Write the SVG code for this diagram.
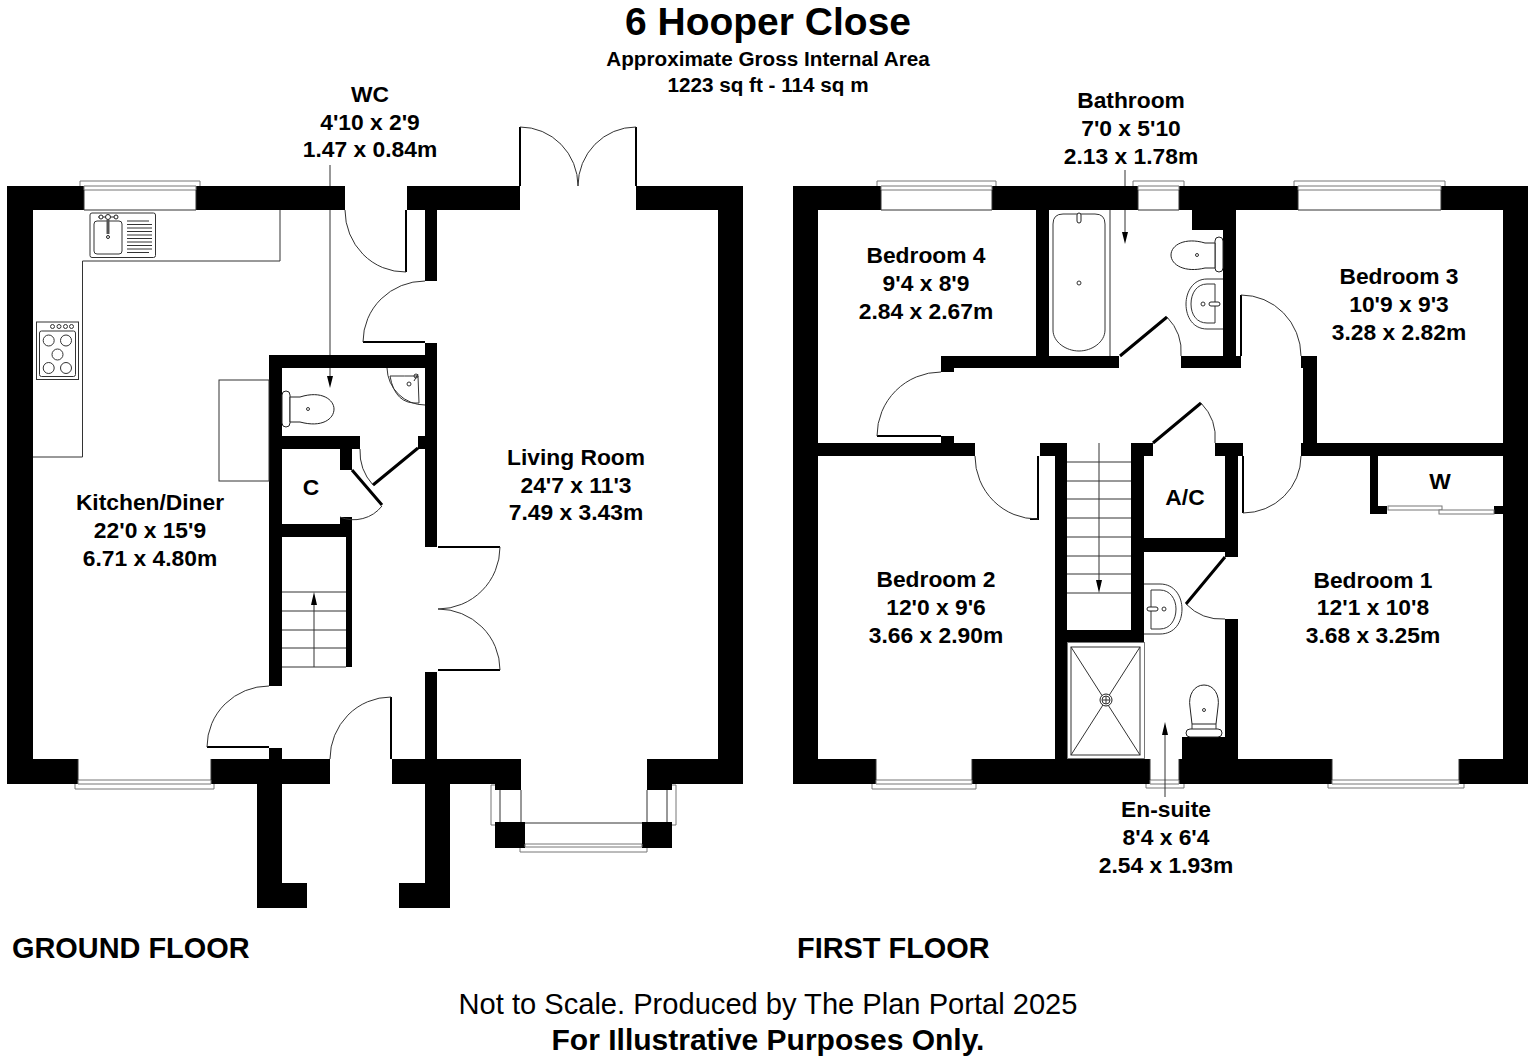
<svg xmlns="http://www.w3.org/2000/svg" width="1536" height="1063" viewBox="0 0 1536 1063">
<style>
.w{fill:#000;stroke:none}
.l{fill:none;stroke:#333;stroke-width:1}
.g{fill:#fff;stroke:#777;stroke-width:1}
.d{fill:none;stroke:#000;stroke-width:2}
.t{fill:none;stroke:#000;stroke-width:3}
.f{fill:#fff;stroke:#222;stroke-width:1}
.a{fill:#000;stroke:none}
text{font-family:"Liberation Sans",Arial,sans-serif;font-weight:700;fill:#000;text-anchor:middle}
.r{font-size:22.800px}
.s{text-anchor:start;font-size:28.900px}
</style>
<rect width="1536" height="1063" fill="#fff"/>
<g id="ground-floor">
<path class="w" d="M7 186H84V210H33V759H78V784H7Z"/>
<path class="w" d="M196 186H345V210H196Z"/>
<path class="w" d="M407 186H520V210H437V281H425V210H407Z"/>
<path class="w" d="M636 186H743V784H647V759H718V210H636Z"/>
<path class="w" d="M425 343H437V547H425V368H282V436H360V449H352V470H340V449H282V524H340V517H352V667H346V537H282V686H269V355H425Z"/>
<path class="w" d="M418 436H425V449H418Z"/>
<path class="w" d="M425 672H437V759H425Z"/>
<path class="w" d="M269 748H282V759H269Z"/>
<path class="w" d="M211 759H330V784H282V883H307V908H257V784H211Z"/>
<path class="w" d="M392 759H521V790H495V784H450V908H399V883H425V784H392Z"/>
<path class="w" d="M647 784H672V790H647Z"/>
<path class="w" d="M495 822H525V848H495Z"/>
<path class="w" d="M642 822H672V848H642Z"/>
<g id="ground-windows">
<path class="g" d="M80 186V181H200V186M84 186H196V190H84Z"/>
<path class="l" d="M84 190V210H196V190"/>
<path class="g" d="M75 784V789H214V784M78 780H211V784H78Z"/>
<path class="l" d="M78 759V780M211 759V780"/>
<path class="g" d="M495 785H491V825H495"/>
<path class="l" d="M500 790V822M521 790V822"/>
<path class="g" d="M672 785H676V825H672"/>
<path class="l" d="M667 790V822M647 790V822"/>
<path class="l" d="M525 823H642"/>
<path class="g" d="M525 844H642V847H525ZM520 848V852H647V848"/>
</g>
<g id="ground-doors">
<path class="d" d="M406 210V272M363 342H425M438 547H500M438 670H500M207 747H269M391 697V759M520 127V186M636 127V186"/>
<path class="t" d="M418 448L373 485M352 470L382 505"/>
<path class="l" d="M345 210A60 62 0 0 0 406 272M425 281A62 61 0 0 0 363 342M373 485A50 50 0 0 1 360 449M382 506A36 36 0 0 1 340 517M500 547A62 62 0 0 1 438 609M438 609A62 61 0 0 1 500 670M269 686A62 61 0 0 0 207 747M391 697A61 62 0 0 0 330 759M520 127A58 59 0 0 1 578 186M636 127A58 59 0 0 0 578 186"/>
</g>
<g id="ground-stairs">
<path class="l" d="M282 592H346M282 611H346M282 630H346M282 648H346M282 667H346M314 667V600"/>
<path class="a" d="M314 592L317 605H311Z"/>
</g>
<g id="kitchen-fittings">
<path class="l" d="M280 210V261H82.500V457H33"/>
<rect class="l" x="219" y="380" width="50" height="101"/>
<rect class="l" x="90" y="213" width="65.500" height="44.500" rx="2"/>
<rect class="l" x="94" y="221" width="28" height="33" rx="3"/>
<path class="l" d="M127 221H149M127 224.500H152M127 228H152M127 231.500H152M127 235H152M127 238.500H152M127 242H152M127 245.500H152M127 249H152M127 252.500H149"/>
<path class="l" d="M98 217H117"/><circle class="f" cx="108" cy="217" r="2.500"/><circle class="f" cx="101" cy="217" r="2"/><circle class="f" cx="116" cy="217" r="2"/>
<rect x="106.500" y="220" width="3" height="14" fill="#555"/><circle class="f" cx="108" cy="237" r="1.500"/>
<rect class="l" x="36.500" y="322" width="42" height="57.500"/>
<rect class="l" x="39.500" y="331" width="36" height="45.500" rx="2"/>
<circle class="l" cx="48.700" cy="340.500" r="5.500"/><circle class="l" cx="66" cy="340.500" r="5.500"/><circle class="l" cx="57.500" cy="354.500" r="5.500"/><circle class="l" cx="48.700" cy="368" r="5.500"/><circle class="l" cx="66" cy="368" r="5.500"/>
<circle class="l" cx="52.500" cy="326.500" r="2"/><circle class="l" cx="59" cy="326.500" r="2"/><circle class="l" cx="65.500" cy="326.500" r="2"/><circle class="l" cx="71.500" cy="326.500" r="2"/>
</g>
<g id="wc-fittings">
<rect class="f" x="282" y="391" width="8" height="36" rx="4"/>
<path class="f" d="M290 397H300C322 390 334 400 334 409C334 419 322 428 300 422H290Z"/>
<circle class="l" cx="308" cy="409" r="1.500"/>
<path class="l" d="M387 368A38 38 0 0 0 425 405"/>
<path class="l" d="M390 376Q405 376 418 376L419 403Q395 405 390 376Z"/>
<circle class="l" cx="409" cy="384" r="2"/><circle class="l" cx="416" cy="376" r="2"/><path class="l" d="M414 381L418 374"/>
</g>
</g>
<g id="first-floor">
<path class="w" d="M793 186H881V210H818V443H975V456H818V759H876V784H793Z"/>
<path class="w" d="M992 186H1138V210H1049V356H1119V368H954V372H941V356H1036V210H992Z"/>
<path class="w" d="M941 436H954V443H941Z"/>
<path class="w" d="M1179 186H1298V210H1236V356H1241V368H1181V356H1223V230H1192V210H1179Z"/>
<path class="w" d="M1441 186H1528V784H1459V759H1503V456H1378V506H1387V514H1370V456H1301V443H1303V368H1301V356H1317V443H1503V210H1441Z"/>
<path class="w" d="M1494 506H1503V514H1494Z"/>
<path class="w" d="M1040 443H1067V630H1131V443H1153V456H1144V538H1225V456H1215V443H1243V456H1238V557H1225V552H1144V642H1067V759H1150V784H972V759H1055V456H1040Z"/>
<path class="w" d="M1225 619H1238V784H1179V759H1182V737H1225Z"/>
<path class="w" d="M1238 759H1332V784H1238Z"/>
<g id="first-windows">
<path class="g" d="M877 186V181H996V186M881 186H992V190H881Z"/>
<path class="l" d="M881 190V210H992V190"/>
<path class="g" d="M1133 186V181H1184V186M1138 186H1179V190H1138Z"/>
<path class="l" d="M1138 190V210H1179V190"/>
<path class="g" d="M1294 186V181H1445V186M1298 186H1441V190H1298Z"/>
<path class="l" d="M1298 190V210H1441V190"/>
<path class="g" d="M872 784V789H976V784M876 780H972V784H876Z"/>
<path class="l" d="M876 759V780M972 759V780"/>
<path class="g" d="M1146 784V788H1184V784M1150 780H1179V784H1150Z"/>
<path class="l" d="M1150 759V780M1179 759V780"/>
<path class="g" d="M1328 784V788H1464V784M1332 780H1459V784H1332Z"/>
<path class="l" d="M1332 759V780M1459 759V780"/>
<rect class="g" x="1388" y="506" width="54" height="4"/>
<rect class="g" x="1439" y="510" width="55" height="4"/>
</g>
<g id="first-doors">
<path class="d" d="M877 436H941M1038 456V519H1030M1243 456V513M1241 295V356"/>
<path class="t" d="M1120 356L1167 317M1153 443L1201 403M1225 557L1186 604"/>
<path class="l" d="M941 372A64 64 0 0 0 877 436M975 456A62 63 0 0 0 1038 519M1167 317A50 50 0 0 1 1181 356M1201 403A50 50 0 0 1 1215 443M1186 604A50 50 0 0 0 1225 619M1301 456A58 57 0 0 1 1243 513M1241 295A60 61 0 0 1 1301 356"/>
</g>
<g id="first-stairs">
<path class="l" d="M1067 462H1131M1067 481H1131M1067 499H1131M1067 518H1131M1067 537H1131M1067 556H1131M1067 574H1131M1067 593H1131M1099 443V585"/>
<path class="a" d="M1099 593L1102 580H1096Z"/>
</g>
<g id="bathroom-fittings">
<path class="l" d="M1110 210V356"/>
<path class="l" d="M1053 224Q1053 214 1063 214H1095Q1105 214 1105 224V330C1105 342 1092 351 1079 351C1066 351 1053 342 1053 330Z"/>
<rect class="f" x="1077" y="213" width="4" height="10" rx="2"/>
<circle class="l" cx="1079" cy="283" r="2"/>
<rect class="f" x="1215" y="237" width="8" height="35" rx="4"/>
<path class="f" d="M1215 243H1205C1185 237 1171 245 1171 255C1171 265 1185 273 1205 268H1215Z"/>
<circle class="l" cx="1197" cy="255" r="1.500"/>
<path class="l" d="M1223 279H1207C1193 279 1186 292 1186 304C1186 317 1193 329 1207 329H1223"/>
<path class="l" d="M1215 284H1207C1197 284 1191 293 1191 304C1191 315 1197 323 1207 323H1215Z"/>
<circle class="l" cx="1203" cy="304" r="2"/><rect class="f" x="1209" y="302" width="11" height="4" rx="2"/>
</g>
<g id="ensuite-fittings">
<rect class="g" x="1067.500" y="642.500" width="77" height="116"/>
<rect class="l" x="1071" y="647" width="69" height="108"/>
<path class="l" d="M1071 647L1140 755M1140 647L1071 755"/>
<circle class="f" cx="1106" cy="700" r="6"/><circle class="l" cx="1106" cy="700" r="4"/><path class="l" d="M1102 700H1110M1106 696V704"/>
<path class="l" d="M1144 584H1160C1175 584 1182 597 1182 609C1182 622 1175 634 1160 634H1144"/>
<path class="l" d="M1151 590H1160C1170 590 1176 599 1176 609C1176 620 1170 629 1160 629H1151Z"/>
<circle class="l" cx="1164" cy="609" r="2"/><rect class="f" x="1147" y="607" width="11" height="4" rx="2"/>
<path class="f" d="M1192 724L1190 707C1188 695 1194 685 1204 685C1214 685 1220 695 1218 707L1216 724Z"/>
<rect class="f" x="1186" y="729" width="36" height="8" rx="4"/>
<path class="l" d="M1192 724V729M1216 724V729"/>
<circle class="l" cx="1204" cy="710" r="1.500"/>
</g>
</g>
<g id="leaders">
<path class="l" d="M330 165V186M330 210V355M330 368V376M1125 170V186M1125 210V232M1165 735V797"/>
<path class="a" d="M330 388L333 376H327Z"/>
<path class="a" d="M1125 244L1128 232H1122Z"/>
<path class="a" d="M1165 722L1168 735H1162Z"/>
</g>
<g id="labels">
<text x="768" y="35" style="font-size:39px">6 Hooper Close</text>
<text x="768" y="66" style="font-size:20.700px">Approximate Gross Internal Area</text>
<text x="768" y="92" style="font-size:20.700px">1223 sq ft - 114 sq m</text>
<text class="r" x="370" y="102">WC</text><text class="r" x="370" y="130">4'10 x 2'9</text><text class="r" x="370" y="157">1.47 x 0.84m</text>
<text class="r" x="1131" y="108">Bathroom</text><text class="r" x="1131" y="136">7'0 x 5'10</text><text class="r" x="1131" y="164">2.13 x 1.78m</text>
<text class="r" x="926" y="263">Bedroom 4</text><text class="r" x="926" y="291">9'4 x 8'9</text><text class="r" x="926" y="319">2.84 x 2.67m</text>
<text class="r" x="1399" y="284">Bedroom 3</text><text class="r" x="1399" y="312">10'9 x 9'3</text><text class="r" x="1399" y="340">3.28 x 2.82m</text>
<text class="r" x="150" y="510">Kitchen/Diner</text><text class="r" x="150" y="538">22'0 x 15'9</text><text class="r" x="150" y="566">6.71 x 4.80m</text>
<text class="r" x="576" y="465">Living Room</text><text class="r" x="576" y="493">24'7 x 11'3</text><text class="r" x="576" y="520">7.49 x 3.43m</text>
<text class="r" x="311" y="495">C</text>
<text class="r" x="1440" y="489">W</text>
<text class="r" x="1185" y="505">A/C</text>
<text class="r" x="936" y="587">Bedroom 2</text><text class="r" x="936" y="615">12'0 x 9'6</text><text class="r" x="936" y="643">3.66 x 2.90m</text>
<text class="r" x="1373" y="588">Bedroom 1</text><text class="r" x="1373" y="615">12'1 x 10'8</text><text class="r" x="1373" y="643">3.68 x 3.25m</text>
<text class="r" x="1166" y="817">En-suite</text><text class="r" x="1166" y="845">8'4 x 6'4</text><text class="r" x="1166" y="873">2.54 x 1.93m</text>
<text class="s" x="12" y="958">GROUND FLOOR</text>
<text class="s" x="797" y="958">FIRST FLOOR</text>
<text x="768" y="1014" style="font-size:29.100px;font-weight:400">Not to Scale. Produced by The Plan Portal 2025</text>
<text x="768" y="1050" style="font-size:30px">For Illustrative Purposes Only.</text>
</g>
</svg>
